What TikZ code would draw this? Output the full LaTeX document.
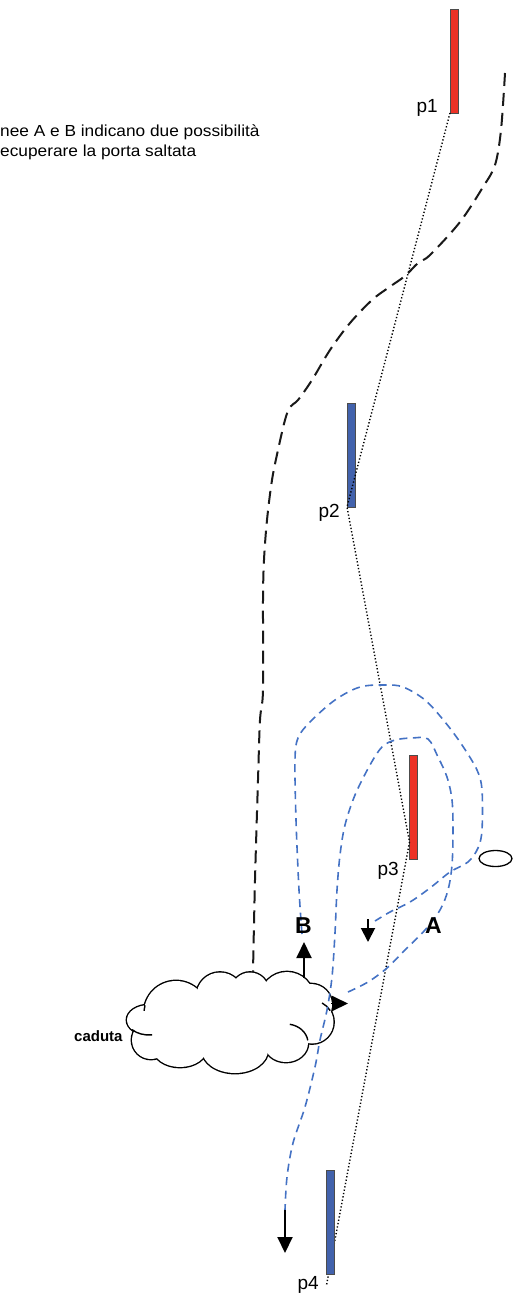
\documentclass[tikz,border=0pt]{standalone}
\usepackage{fontspec}
\setmainfont{Liberation Sans}
\usetikzlibrary{arrows.meta,shapes.geometric}
\definecolor{gred}{RGB}{236,50,38}
\definecolor{gblue}{RGB}{66,98,172}
\definecolor{pathblue}{RGB}{68,114,196}
\tikzset{
  gate/.style={draw=black!70, line width=0.8pt, minimum width=8pt, minimum height=104pt, inner sep=0pt, outer sep=0pt},
  plabel/.style={anchor=base east, inner sep=0pt, font=\fontsize{19}{21}\selectfont},
  letterlbl/.style={anchor=base, inner sep=0pt, font=\fontsize{23}{25}\selectfont\bfseries},
  dotline/.style={black, line width=1.4pt, dash pattern=on 1.3pt off 2.1pt},
  blackdash/.style={black!90, line width=2pt, dash pattern=on 13pt off 7pt},
  bluedash/.style={pathblue, line width=1.6pt, dash pattern=on 8pt off 5.5pt},
  arr/.style={black, line width=1.9pt, -{Triangle[length=16pt,width=15pt]}},
  cloudline/.style={black, line width=1.4pt},
}
\begin{document}
\begin{tikzpicture}[x=1pt,y=-1pt]
\useasboundingbox (0,0) rectangle (513,1295);
% text
\node[anchor=base west, inner sep=0pt, font=\fontsize{16}{18}\selectfont, xscale=1.08] (t1) at (0,136) {nee A e B indicano due possibilità};
\node[anchor=base west, inner sep=0pt, font=\fontsize{16}{18}\selectfont, xscale=1.08] (t2) at (0,156) {ecuperare la porta saltata};
\node[anchor=base west, inner sep=0pt, font=\fontsize{15}{17}\selectfont\bfseries] (cad) at (74,1041) {caduta};
% gates (except p4)
\node[gate, fill=gred] (g1) at (454,61) {};
\node[gate, fill=gblue] (g2) at (351,455) {};
\node[gate, fill=gred] (g3) at (413,807) {};
\coordinate (k3) at (409.5,842);
\coordinate (k4) at (326.5,1285);
% dotted ideal line
\draw[dotline] (g1.south west) -- (g2.south west) -- (k3) -- (k4);
\node[gate, fill=gblue] (g4) at (330,1222) {};
% gate labels
\node[plabel] (l1) at (438,113) {p1};
\node[plabel] (l2) at (340,517) {p2};
\node[plabel] (l3) at (399,875) {p3};
\node[plabel] (l4) at (319,1289) {p4};
% cloud (union of puffs)
\foreach \cx/\cy/\rx/\ry in {176/1013/32/32, 220/996/23.5/23.5, 250/991/18.5/18.5, 287/999/27/27, 311/1005/21/21, 312/1022/21.5/21.5, 286/1043/22/19, 235/1050/33/23, 180/1048/27/19, 151/1040/19/19, 149/1020/22/15}
  \draw[black, line width=2.8pt] (\cx,\cy) ellipse [x radius=\rx, y radius=\ry];
\foreach \cx/\cy/\rx/\ry in {176/1013/32/32, 220/996/23.5/23.5, 250/991/18.5/18.5, 287/999/27/27, 311/1005/21/21, 312/1022/21.5/21.5, 286/1043/22/19, 235/1050/33/23, 180/1048/27/19, 151/1040/19/19, 149/1020/22/15}
  \fill[white] (\cx,\cy) ellipse [x radius=\rx, y radius=\ry];
\fill[white] (230,1022) ellipse [x radius=80, y radius=30];
% inner strokes of the cloud
\draw[cloudline] (286,1043) ++(-80:22 and 19) arc[start angle=-80, end angle=-8, x radius=22, y radius=19];
\draw[cloudline] (149,1020) ++(140:22 and 15) arc[start angle=140, end angle=82, x radius=22, y radius=15];
\draw[cloudline] (176,1013) ++(194:32) arc[start angle=194, end angle=184, radius=32];
\draw[cloudline] (312,1022) ++(-32:21.5) arc[start angle=-32, end angle=-62, radius=21.5];
\coordinate (cloudtop) at (253,972);
% black dashed actual path
\draw[blackdash] plot[smooth, tension=0.55] coordinates {(505,73) (501,130) (495,165) (483,187) (460,222) (430,255) (418,263) (405,276) (388,288) (372,300) (350,323) (330,350) (312,380) (298,400) (290,407) (285,420) (278,450) (272,480) (267,520) (264,560) (263,600) (263,690) (260,720) (258,780) (255,880) (cloudtop)};
% ellipse marker
\node[ellipse, draw, black, line width=1.3pt, minimum width=33pt, minimum height=16pt, inner sep=0pt] (ell) at (495.5,858.5) {};
% blue path B (outer loop)
\draw[bluedash] plot[smooth, tension=0.55] coordinates {(302,934) (299,890) (296,820) (295,760) (298,738) (310,722) (335,700) (360,687) (385,685) (403,687) (425,700) (445,722) (462,745) (477,770) (482,790) (482,830) (478,848) (468,862) (450,872) (430,888) (410,902) (390,912) (375,921)};
% blue path A (inner loop)
\draw[bluedash] plot[smooth, tension=0.55] coordinates {(348,992) (368,982) (387,968) (405,950) (425,930) (440,910) (448,890) (452,865) (453,830) (452,800) (447,777) (438,757) (428,739) (412,738) (395,740) (382,747) (370,765) (355,795) (345,825) (340,855) (337,890) (335,933) (332,977) (327,1010) (320,1040) (315,1067) (305,1107) (293,1143) (287,1177) (285,1210)};
% arrows
\coordinate (aB) at (304,978);
\coordinate (aBt) at (304,942);
\draw[arr] (aB) -- (aBt);
\coordinate (aR) at (331,1003.5);
\coordinate (aRt) at (348,1003.5);
\draw[arr] (aR) -- (aRt);
\coordinate (aD) at (368,919);
\coordinate (aDt) at (368,942);
\draw[arr, -{Triangle[length=14pt,width=14pt]}] (aD) -- (aDt);
\coordinate (aE) at (285,1210);
\coordinate (aEt) at (285,1253);
\draw[arr] (aE) -- (aEt);
% letters
\node[letterlbl] (lB) at (303.5,933) {B};
\node[letterlbl] (lA) at (433.5,933) {A};
\end{tikzpicture}
\end{document}
